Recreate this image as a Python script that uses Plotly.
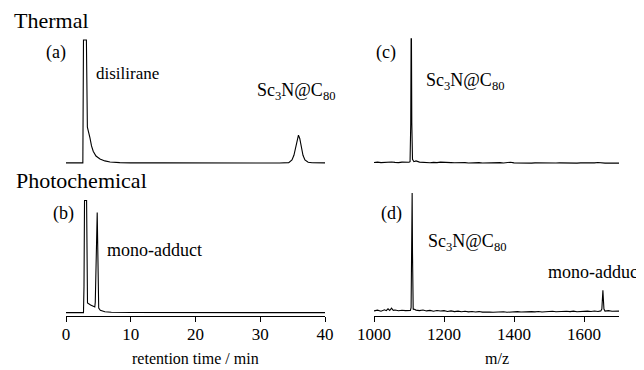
import plotly.graph_objects as go

# The page body has an 8px margin, so the figure is drawn 8px smaller and
# all pixel positions below are given in window coordinates.
OFF = 8
W, H = 644 - OFF, 370 - OFF
FONT = "Liberation Serif, Times New Roman, serif"

# ---------------- data ----------------
# (a) thermal HPLC chromatogram
thermal_t = [0, 1, 2, 2.6, 2.7, 3.15, 3.3, 3.47, 3.7, 3.94, 4.2, 4.63, 5.25, 6.0, 6.8, 8.3, 10, 15,
             20, 25, 30, 33, 34.4, 34.9, 35.2, 35.5, 35.7, 35.9, 36.1, 36.3, 36.6, 36.9, 37.4, 38, 40]
thermal_v = [0.3, 0.2, 0.3, 0.3, 92, 92, 27, 24, 19, 13, 9, 5.4, 3.2, 1.8, 1.0, 0.5, 0.3, 0.3,
             0.2, 0.2, 0.2, 0.2, 0.5, 2.5, 6, 13, 18.5, 21, 18.5, 13, 6, 2.5, 0.8, 0.4, 0.3]

# (b) photochemical HPLC chromatogram
photo_t = [0, 1, 2, 2.7, 2.78, 2.86, 3.18, 3.32, 3.8, 4.2, 4.45, 4.52, 4.72, 4.82, 5.05, 5.3,
           6.0, 7, 10, 15, 20, 25, 30, 35, 40]
photo_v = [0.3, 0.3, 0.3, 0.3, 20, 84, 84, 7.5, 6, 4.7, 4.5, 8, 75, 75, 3.7, 2.0,
           1.0, 0.6, 0.4, 0.3, 0.3, 0.3, 0.3, 0.3, 0.3]

# (c) thermal mass spectrum
mz_c = [1000, 1010, 1020, 1030, 1040, 1050, 1060, 1070, 1080, 1090, 1100, 1103, 1105, 1106, 1107,
        1108, 1110, 1114, 1120, 1130, 1140, 1150, 1160, 1170, 1180, 1190, 1200, 1210, 1220, 1230,
        1240, 1250, 1260, 1270, 1280, 1290, 1300, 1310, 1320, 1330, 1340, 1350, 1360, 1370, 1380,
        1390, 1400, 1410, 1420, 1430, 1440, 1450, 1460, 1470, 1480, 1490, 1500, 1510, 1520, 1530,
        1540, 1550, 1560, 1570, 1580, 1590, 1600, 1610, 1620, 1630, 1640, 1650, 1660, 1670, 1680,
        1690, 1700]
int_c = [0.6, 0.9, 0.5, 0.8, 0.6, 1.0, 0.7, 0.5, 0.9, 0.6, 0.8, 1.2, 30, 93, 93,
         30, 3.0, 1.2, 1.8, 0.9, 0.6, 0.8, 0.4, 0.7, 0.5, 0.9, 0.6, 0.3, 0.5, 0.4,
         0.6, 0.3, 0.5, 0.2, 0.4, 0.3, 0.5, 0.2, 0.3, 0.4, 0.2, 0.3, 0.5, 0.2, 0.4,
         0.8, 0.3, 0.2, 0.4, 0.2, 0.3, 0.1, 0.3, 0.2, 0.4, 0.2, 0.3, 0.1, 0.2, 0.3,
         0.2, 0.1, 0.3, 0.2, 0.1, 0.3, 0.2, 0.1, 0.2, 0.3, 0.6, 0.2, 0.1, 0.2, 0.1,
         0.2, 0.1]

# (d) photochemical mass spectrum
mz_d = [1000, 1010, 1020, 1030, 1035, 1040, 1045, 1050, 1055, 1060, 1070, 1080, 1090, 1100, 1104,
        1106, 1107, 1108, 1109, 1110, 1111, 1112, 1114, 1120, 1130, 1140, 1150, 1160, 1170, 1180,
        1190, 1200, 1210, 1220, 1230, 1240, 1250, 1260, 1270, 1280, 1290, 1300, 1310, 1320, 1330,
        1340, 1350, 1360, 1370, 1380, 1390, 1400, 1410, 1420, 1430, 1440, 1450, 1460, 1470, 1480,
        1490, 1500, 1510, 1520, 1530, 1540, 1550, 1560, 1570, 1580, 1590, 1600, 1610, 1620, 1630,
        1640, 1648, 1651, 1653, 1654, 1655, 1657, 1660, 1670, 1680, 1690, 1700]
int_d = [1.6, 2.2, 1.4, 2.4, 1.8, 3.2, 1.9, 3.6, 2.0, 2.3, 1.7, 2.1, 1.8, 2.2, 1.9,
         4, 45, 89.5, 89.5, 45, 4, 2.6, 3.0, 2.2, 1.8, 2.3, 1.6, 2.0, 1.4, 1.9,
         1.5, 1.8, 1.2, 1.6, 1.1, 1.4, 1.0, 1.3, 0.9, 1.2, 0.8, 1.1, 0.7, 1.0, 0.8,
         0.6, 0.9, 0.7, 1.0, 0.6, 0.9, 0.7, 1.1, 0.8, 1.0, 0.7, 1.1, 0.9, 1.2, 0.8,
         1.1, 0.9, 1.3, 1.0, 1.2, 0.9, 1.3, 1.1, 1.4, 1.0, 1.3, 1.1, 1.4, 1.2, 1.5,
         1.2, 1.6, 3, 10, 17, 12, 3, 1.5, 1.8, 1.3, 1.6, 1.4]

hplc_ticks = [0, 10, 20, 30, 40]
ms_ticks = [1000, 1200, 1400, 1600]


def px(x):
    return (x - OFF) / W


def py(y):
    return 1 - (y - OFF) / H


line = dict(color="black", width=1.1)
fig = go.Figure()
fig.add_trace(go.Scatter(x=thermal_t, y=thermal_v, mode="lines", line=line, xaxis="x", yaxis="y"))
fig.add_trace(go.Scatter(x=photo_t, y=photo_v, mode="lines", line=line, xaxis="x2", yaxis="y2"))
fig.add_trace(go.Scatter(x=mz_c, y=int_c, mode="lines", line=line, xaxis="x3", yaxis="y3"))
fig.add_trace(go.Scatter(x=mz_d, y=int_d, mode="lines", line=line, xaxis="x4", yaxis="y4"))

left_dom = [px(66), px(325)]
right_dom = [px(374), px(619)]
top_dom = [py(170), py(36)]
bot_dom = [py(316), py(181)]

hidden_x = dict(visible=False, fixedrange=True, automargin=False)
hidden_y = dict(visible=False, automargin=False)
vis_x = dict(showline=True, linecolor="black", linewidth=1.2, ticks="outside", ticklen=5,
             tickwidth=1, tickcolor="black", showgrid=False, zeroline=False, automargin=False,
             ticklabelstandoff=-3,
             tickfont=dict(family=FONT, size=17, color="black"))

fig.update_layout(
    template="none",
    width=W, height=H,
    margin=dict(l=0, r=0, t=0, b=0, pad=0),
    paper_bgcolor="white", plot_bgcolor="white",
    showlegend=False,
    font=dict(family=FONT, color="black"),
    xaxis=dict(domain=left_dom, range=[0, 40], anchor="y", **hidden_x),
    yaxis=dict(domain=top_dom, range=[-5, 95], anchor="x", **hidden_y),
    xaxis2=dict(domain=left_dom, range=[0, 40], anchor="y2", tickvals=hplc_ticks, **vis_x),
    yaxis2=dict(domain=bot_dom, range=[-2.2, 98.5], anchor="x2", **hidden_y),
    xaxis3=dict(domain=right_dom, range=[1000, 1700], anchor="y3", **hidden_x),
    yaxis3=dict(domain=top_dom, range=[-5, 95], anchor="x3", **hidden_y),
    xaxis4=dict(domain=right_dom, range=[1000, 1700], anchor="y4", tickvals=ms_ticks, **vis_x),
    yaxis4=dict(domain=bot_dom, range=[-2.2, 98.5], anchor="x4", **hidden_y),
)

SC = "Sc<sub>3</sub>N@C<sub>80</sub>"
labels = [
    ("Thermal", 13, 20, 22, "left"),
    ("Photochemical", 15, 180, 22, "left"),
    ("(a)", 45, 53, 18, "left"),
    ("disilirane", 95, 73, 17, "left"),
    (SC, 256, 92, 18, "left"),
    ("(c)", 375, 53, 18, "left"),
    (SC, 425, 81, 18, "left"),
    ("(b)", 52, 213, 18, "left"),
    ("mono-adduct", 106, 250, 18, "left"),
    ("(d)", 380, 213, 18, "left"),
    (SC, 427, 243, 18, "left"),
    ("mono-adduct", 547, 272, 18, "left"),
    ("retention time / min", 195.5, 358, 16, "center"),
    ("m/z", 496.5, 358, 16, "center"),
]
for text, x, y, size, anchor in labels:
    fig.add_annotation(text=text, x=px(x), y=py(y), xref="paper", yref="paper",
                       xanchor=anchor, yanchor="middle", showarrow=False, borderpad=0,
                       font=dict(family=FONT, size=size, color="black"))

fig.write_html("out.html")
